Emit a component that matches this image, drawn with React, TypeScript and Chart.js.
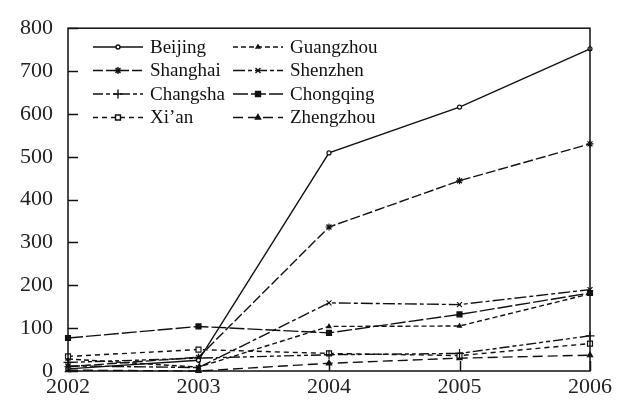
import React, { useEffect, useRef } from "react";
import { Chart, registerables } from "chart.js";
import { drawPoint } from "chart.js/helpers";

Chart.register(...registerables);

// Years on the horizontal axis
const years = ["2002", "2003", "2004", "2005", "2006"];

// Values per city
const beijing = [5, 25, 509, 616, 752];
const shanghai = [10, 32, 336, 444, 530];
const changsha = [20, 30, 38, 41, 82];
const xian = [34, 50, 41, 36, 64];
const guangzhou = [28, 9, 104, 105, 180];
const shenzhen = [12, 8, 159, 155, 190];
const chongqing = [77, 104, 89, 132, 182];
const zhengzhou = [2, 0, 18, 30, 37];

// Vertical axis range and tick step
const yMin = 0;
const yMax = 800;
const yStep = 100;

const INK = "#111";
const FONT = "'Liberation Serif', 'Times New Roman', serif";

type Series = {
  label: string;
  data: number[];
  dash: number[];
  width: number;
  style: string;
  radius: number;
  fill: string;
};

const series: Series[] = [
  { label: "Beijing", data: beijing, dash: [], width: 1.4, style: "circle", radius: 2, fill: "#fff" },
  { label: "Shanghai", data: shanghai, dash: [10, 3], width: 1.4, style: "star", radius: 3.5, fill: INK },
  { label: "Changsha", data: changsha, dash: [10, 3, 4, 3, 4, 3], width: 1.4, style: "cross", radius: 4.5, fill: INK },
  { label: "Xi\u2019an", data: xian, dash: [5, 4], width: 1.4, style: "rect", radius: 3.5, fill: "#fff" },
  { label: "Guangzhou", data: guangzhou, dash: [5, 3], width: 1.4, style: "triangle", radius: 2.2, fill: INK },
  { label: "Shenzhen", data: shenzhen, dash: [12, 3, 4, 3], width: 1.4, style: "crossRot", radius: 3.5, fill: INK },
  { label: "Chongqing", data: chongqing, dash: [15, 3], width: 1.4, style: "rect", radius: 3.5, fill: INK },
  { label: "Zhengzhou", data: zhengzhou, dash: [10, 5], width: 1.4, style: "triangle", radius: 3, fill: INK },
];

// Frame around the plot plus inward tick marks
const framePlugin = {
  id: "frame",
  afterDraw(chart: any) {
    const { ctx, chartArea: a, scales } = chart;
    ctx.save();
    ctx.strokeStyle = INK;
    ctx.lineWidth = 1.5;
    ctx.setLineDash([]);
    ctx.strokeRect(a.left, a.top, a.right - a.left, a.bottom - a.top);
    const y = scales.y;
    for (let v = yMin; v <= yMax; v += yStep) {
      const py = Math.round(y.getPixelForValue(v)) + 0.5;
      ctx.beginPath();
      ctx.moveTo(a.left, py);
      ctx.lineTo(a.left + 10, py);
      ctx.stroke();
    }
    const x = scales.x;
    years.forEach((_, i) => {
      const px = Math.round(x.getPixelForValue(i)) + 0.5;
      ctx.beginPath();
      ctx.moveTo(px, a.bottom);
      ctx.lineTo(px, a.bottom - 10);
      ctx.stroke();
    });
    ctx.restore();
  },
};

// Two-column key in the upper-left corner of the plot
const legendPlugin = {
  id: "twoColumnKey",
  afterDraw(chart: any) {
    const { ctx } = chart;
    const columns = [
      ["Beijing", "Shanghai", "Changsha", "Xi\u2019an"],
      ["Guangzhou", "Shenzhen", "Chongqing", "Zhengzhou"],
    ];
    const colX = [93, 233];
    const sampleW = 50;
    const rowY0 = 47;
    const rowH = 23.5;
    ctx.save();
    ctx.font = `19px ${FONT}`;
    ctx.textBaseline = "middle";
    ctx.fillStyle = INK;
    columns.forEach((col, c) => {
      col.forEach((name, r) => {
        const s = series.find((d) => d.label === name)!;
        const x0 = colX[c];
        const y0 = rowY0 + r * rowH;
        ctx.strokeStyle = INK;
        ctx.lineWidth = 1.4;
        ctx.setLineDash(s.dash);
        ctx.beginPath();
        ctx.moveTo(x0, y0);
        ctx.lineTo(x0 + sampleW, y0);
        ctx.stroke();
        ctx.setLineDash([]);
        ctx.fillStyle = s.fill;
        drawPoint(ctx, { pointStyle: s.style as any, radius: s.radius, borderWidth: 1.2, rotation: 0 }, x0 + sampleW / 2, y0);
        ctx.fillStyle = INK;
        ctx.fillText(name, x0 + sampleW + 7, y0 + 1);
      });
    });
    ctx.restore();
  },
};

export default function App() {
  const ref = useRef<HTMLCanvasElement>(null);

  useEffect(() => {
    if (!ref.current) return;
    const chart = new Chart(ref.current, {
      type: "line",
      data: {
        labels: years,
        datasets: series.map((s) => ({
          label: s.label,
          data: s.data,
          borderColor: INK,
          borderWidth: s.width,
          borderDash: s.dash,
          pointStyle: s.style as any,
          pointRadius: s.radius,
          pointBorderWidth: 1.2,
          pointBackgroundColor: s.fill,
          pointBorderColor: INK,
          tension: 0,
          fill: false,
          clip: false as any,
        })),
      },
      options: {
        animation: false,
        responsive: false,
        layout: { padding: { top: 19, right: 33, left: 0, bottom: 0 } },
        plugins: {
          legend: { display: false },
          tooltip: { enabled: false },
        },
        scales: {
          x: {
            type: "category",
            offset: false,
            grid: { display: false, drawTicks: false },
            border: { display: false },
            ticks: {
              color: "#222",
              padding: 3,
              maxRotation: 0,
              autoSkip: false,
              font: { family: FONT, size: 22 },
            },
            afterFit: (s: any) => {
              s.height = 30;
            },
          },
          y: {
            min: yMin,
            max: yMax,
            grid: { display: false, drawTicks: false },
            border: { display: false },
            ticks: {
              stepSize: yStep,
              color: "#222",
              padding: 15,
              font: { family: FONT, size: 22 },
            },
            afterFit: (s: any) => {
              s.width = 68;
            },
          },
        },
      },
      plugins: [framePlugin, legendPlugin],
    });
    return () => chart.destroy();
  }, []);

  return (
    <div style={{ position: "absolute", left: 0, top: 0, width: 623, height: 401, background: "#fff" }}>
      <canvas ref={ref} width={623} height={401} />
    </div>
  );
}
